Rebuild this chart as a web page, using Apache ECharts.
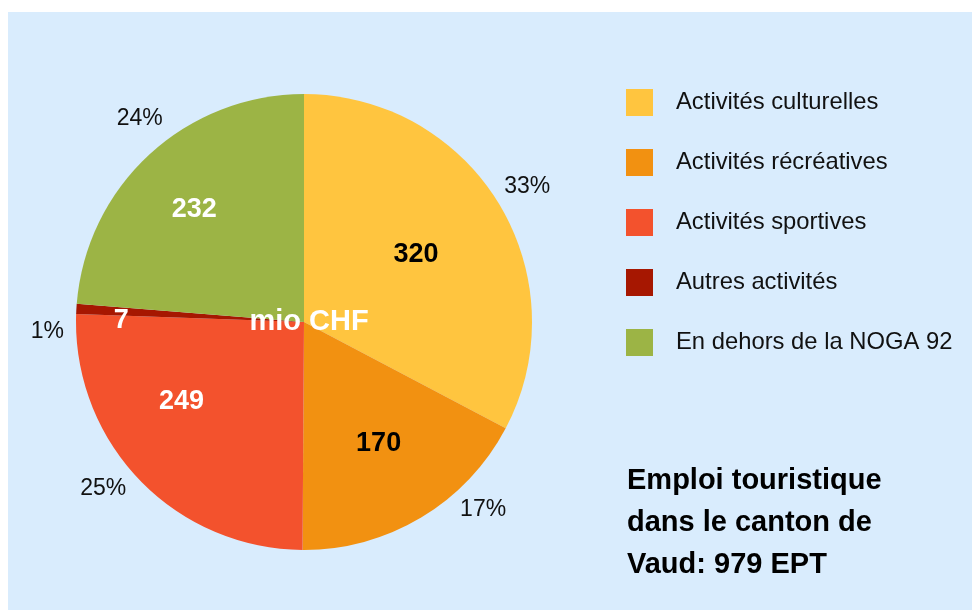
<!DOCTYPE html>
<html>
<head>
<meta charset="utf-8">
<script src="https://cdn.jsdelivr.net/npm/echarts@6/dist/echarts.min.js"></script>
<style>
  html, body { margin: 0; padding: 0; background: #ffffff; }
  #wrap { position: relative; width: 972px; height: 610px; }
  #main { position: absolute; left: 8px; top: 12px; width: 964px; height: 598px; }
</style>
</head>
<body>
<div id="wrap"><div id="main"></div></div>
<script>
// données (mio CHF)
var categories = ['Activités culturelles', 'Activités récréatives', 'Activités sportives', 'Autres activités', 'En dehors de la NOGA 92'];
var values = [320, 170, 249, 7, 232];

// styles
var colors = ['#FFC53F', '#F29111', '#F3522D', '#A61701', '#9CB445'];
var valueLabelColors = ['#000000', '#000000', '#ffffff', '#ffffff', '#ffffff'];
// décalage manuel des étiquettes (comme dans l'original)
var valueLabelShift = [[-19, 12], [-4, -10], [-12, -26], [-30, 7], [-6, 0]];
var pctLabelShift = [[-2, 1], [44, -38], [-11, -15], [6, 25], [14, -10]];

var center = [296, 310];
var R = 228;
var font = 'Liberation Sans, Arial, sans-serif';

var mainData = [], valueData = [], pctData = [];
for (var i = 0; i < categories.length; i++) {
    mainData.push({name: categories[i], value: values[i], itemStyle: {color: colors[i]}});
    valueData.push({name: categories[i], value: values[i], label: {color: valueLabelColors[i]}});
    pctData.push({name: categories[i], value: values[i]});
}

var transparent = {color: 'rgba(0,0,0,0)', borderWidth: 0};

var myChart = echarts.init(document.getElementById('main'));
var option = {
    backgroundColor: '#D9ECFD',
    animation: false,
    legend: {
        orient: 'vertical',
        left: 618,
        top: 77,
        padding: 0,
        itemWidth: 27,
        itemHeight: 27,
        itemGap: 33,
        icon: 'rect',
        selectedMode: false,
        data: categories,
        textStyle: {fontSize: 23.8, color: '#111111', fontFamily: font, padding: [2, 0, 0, 18]}
    },
    graphic: [
        {
            type: 'text',
            left: 619,
            top: 448,
            style: {
                text: 'Emploi touristique\ndans le canton de\nVaud: 979 EPT',
                font: 'bold 29px ' + font,
                lineHeight: 42,
                fill: '#000000'
            }
        },
        {
            type: 'text',
            x: center[0] + 5,
            y: center[1],
            z: 100,
            style: {
                text: 'mio CHF',
                font: 'bold 29px ' + font,
                fill: '#ffffff',
                align: 'center',
                verticalAlign: 'middle'
            }
        }
    ],
    series: [
        {
            name: 'main',
            type: 'pie',
            center: center,
            radius: [0, R],
            startAngle: 90,
            clockwise: true,
            silent: true,
            label: {show: false},
            labelLine: {show: false},
            itemStyle: {borderWidth: 0},
            data: mainData
        },
        {
            // valeurs dans les secteurs
            name: 'values',
            type: 'pie',
            center: center,
            radius: [0, 300],
            startAngle: 90,
            silent: true,
            itemStyle: transparent,
            labelLine: {show: false},
            label: {
                show: true,
                position: 'inside',
                formatter: '{c}',
                fontSize: 27,
                fontWeight: 'bold',
                fontFamily: font
            },
            labelLayout: function (params) {
                var s = valueLabelShift[params.dataIndex];
                return {dx: s[0], dy: s[1]};
            },
            data: valueData
        },
        {
            // pourcentages à l'extérieur
            name: 'pct',
            type: 'pie',
            center: center,
            radius: [R, 292],
            startAngle: 90,
            silent: true,
            percentPrecision: 0,
            itemStyle: transparent,
            labelLine: {show: false},
            label: {
                show: true,
                position: 'inside',
                formatter: '{d}%',
                fontSize: 23,
                color: '#111111',
                fontFamily: font
            },
            labelLayout: function (params) {
                var s = pctLabelShift[params.dataIndex];
                return {dx: s[0], dy: s[1]};
            },
            data: pctData
        }
    ]
};
myChart.setOption(option);
</script>
</body>
</html>
